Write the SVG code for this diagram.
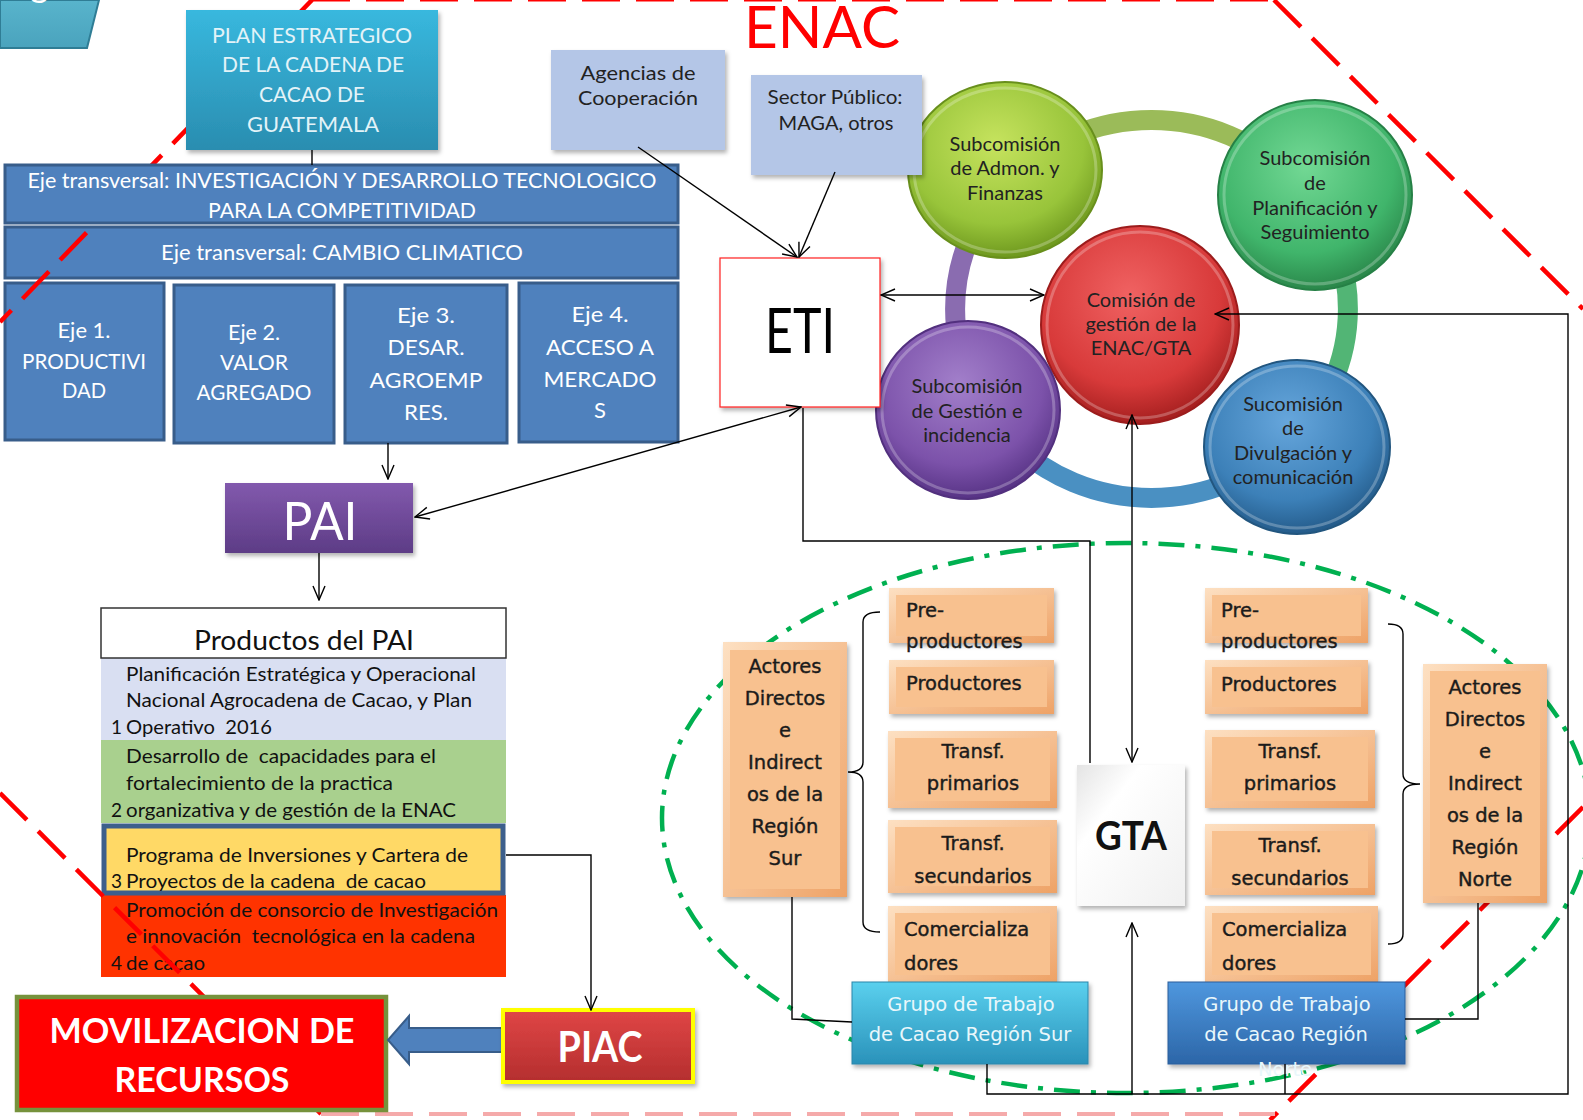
<svg xmlns="http://www.w3.org/2000/svg" width="1583" height="1120" viewBox="0 0 1583 1120">
<defs>
<style>
.cal{font-family:Lato,"Liberation Sans",sans-serif}
.calb{font-family:Lato,"Liberation Sans",sans-serif;font-weight:bold}
.ver{font-family:"DejaVu Sans",Verdana,sans-serif}
.mid{text-anchor:middle}
.ln{fill:none;stroke:#000;stroke-width:1.4}
.lnA{fill:none;stroke:#000;stroke-width:1.4;marker-end:url(#arr)}
.lnAA{fill:none;stroke:#000;stroke-width:1.4;marker-start:url(#arr);marker-end:url(#arr)}
.red{fill:none;stroke:#ff0000;stroke-width:4.5;stroke-dasharray:38 16}
.eje{fill:#4f81bd;stroke:#385d8a;stroke-width:3}
.et{fill:#fff;font-size:22px}
.ct{fill:#222;font-size:20px}
.ot{fill:#1b1b1b;font-size:19.5px;stroke:#1b1b1b;stroke-width:0.4}
.gt{fill:#e9f7fb;font-size:19.5px}
.pt{fill:#111;font-size:19px;white-space:pre}
.orO{fill:url(#gOr);filter:url(#sh)}
.orI{fill:#f8c18f}
.ring{fill:none;stroke-width:20}
</style>
<marker id="arr" viewBox="0 0 16 14" refX="15" refY="7" markerWidth="16" markerHeight="14" markerUnits="userSpaceOnUse" orient="auto-start-reverse">
<path d="M1,1 L15,7 L1,13" fill="none" stroke="#000" stroke-width="1.4"/>
</marker>
<filter id="sh" x="-10%" y="-10%" width="125%" height="130%">
<feDropShadow dx="2" dy="3" stdDeviation="2" flood-color="#000" flood-opacity="0.3"/>
</filter>
<linearGradient id="gPlan" x1="0" y1="0" x2="0" y2="1"><stop offset="0" stop-color="#38b8de"/><stop offset="1" stop-color="#2a8db0"/></linearGradient>
<linearGradient id="gTab" x1="0" y1="0" x2="0" y2="1"><stop offset="0" stop-color="#58b4cc"/><stop offset="1" stop-color="#4aa3bd"/></linearGradient>
<linearGradient id="gPai" x1="0" y1="0" x2="0" y2="1"><stop offset="0" stop-color="#8259ad"/><stop offset="1" stop-color="#5d3c86"/></linearGradient>
<linearGradient id="gPiac" x1="0" y1="0" x2="0" y2="1"><stop offset="0" stop-color="#e04646"/><stop offset="1" stop-color="#b42e2e"/></linearGradient>
<linearGradient id="gGta" x1="0" y1="0" x2="1" y2="1"><stop offset="0" stop-color="#e4e4e4"/><stop offset="0.3" stop-color="#ffffff"/><stop offset="1" stop-color="#f0f0f0"/></linearGradient>
<linearGradient id="gSur" x1="0" y1="0" x2="0" y2="1"><stop offset="0" stop-color="#5ad0ee"/><stop offset="1" stop-color="#2a92ba"/></linearGradient>
<linearGradient id="gNor" x1="0" y1="0" x2="0" y2="1"><stop offset="0" stop-color="#4f97de"/><stop offset="1" stop-color="#2c66a8"/></linearGradient>
<linearGradient id="gOr" x1="0" y1="0" x2="1" y2="1"><stop offset="0" stop-color="#fde0c2"/><stop offset="1" stop-color="#eea266"/></linearGradient>
<radialGradient id="cAd" cx="0.45" cy="0.35" r="0.65"><stop offset="0" stop-color="#c6e35e"/><stop offset="0.7" stop-color="#98c43a"/><stop offset="1" stop-color="#6e981e"/></radialGradient>
<radialGradient id="cPl" cx="0.45" cy="0.35" r="0.65"><stop offset="0" stop-color="#72d894"/><stop offset="0.7" stop-color="#40b56b"/><stop offset="1" stop-color="#2a874a"/></radialGradient>
<radialGradient id="cCo" cx="0.45" cy="0.35" r="0.65"><stop offset="0" stop-color="#f06262"/><stop offset="0.7" stop-color="#d83a3a"/><stop offset="1" stop-color="#a51f1f"/></radialGradient>
<radialGradient id="cGe" cx="0.45" cy="0.35" r="0.65"><stop offset="0" stop-color="#a27fca"/><stop offset="0.7" stop-color="#7c52aa"/><stop offset="1" stop-color="#573385"/></radialGradient>
<radialGradient id="cDi" cx="0.45" cy="0.35" r="0.65"><stop offset="0" stop-color="#66a6dc"/><stop offset="0.7" stop-color="#3c80b8"/><stop offset="1" stop-color="#245b8a"/></radialGradient>
</defs>
<rect width="1583" height="1120" fill="#fff"/>

<g id="title-tab">
<polygon points="0,0 99,0 87,48 0,48" fill="url(#gTab)" stroke="#2f7d95" stroke-width="2"/>
<text x="30" y="-3" class="cal" font-size="36" fill="#fff">g</text>
</g>

<g id="productos">
<rect x="101" y="658" width="405" height="82" fill="#d9dff2"/>
<text class="cal pt" x="126" y="681" textLength="350" lengthAdjust="spacingAndGlyphs">Planificación Estratégica y Operacional</text>
<text class="cal pt" x="126" y="707" textLength="346" lengthAdjust="spacingAndGlyphs">Nacional Agrocadena de Cacao, y Plan</text>
<text class="cal pt" x="111" y="734">1</text>
<text class="cal pt" x="126" y="734" textLength="146" lengthAdjust="spacingAndGlyphs">Operativo  2016</text>
<rect x="101" y="740" width="405" height="83" fill="#a9d08e"/>
<text class="cal pt" x="126" y="763" textLength="310" lengthAdjust="spacingAndGlyphs">Desarrollo de  capacidades para el</text>
<text class="cal pt" x="126" y="790" textLength="267" lengthAdjust="spacingAndGlyphs">fortalecimiento de la practica</text>
<text class="cal pt" x="111" y="817">2</text>
<text class="cal pt" x="126" y="817" textLength="330" lengthAdjust="spacingAndGlyphs">organizativa y de gestión de la ENAC</text>
<rect x="101" y="895" width="405" height="82" fill="#ff3300"/>
<text class="cal pt" x="126" y="917" textLength="372" lengthAdjust="spacingAndGlyphs">Promoción de consorcio de Investigación</text>
<text class="cal pt" x="126" y="943" textLength="349" lengthAdjust="spacingAndGlyphs">e innovación  tecnológica en la cadena</text>
<text class="cal pt" x="111" y="970">4</text>
<text class="cal pt" x="126" y="970" textLength="79" lengthAdjust="spacingAndGlyphs">de cacao</text>
<rect x="104" y="826" width="399" height="67" fill="#ffd966" stroke="#3d5f8c" stroke-width="5"/>
<text class="cal pt" x="126" y="862" textLength="342" lengthAdjust="spacingAndGlyphs">Programa de Inversiones y Cartera de</text>
<text class="cal pt" x="111" y="888">3</text>
<text class="cal pt" x="126" y="888" textLength="300" lengthAdjust="spacingAndGlyphs">Proyectos de la cadena  de cacao</text>
<rect x="101" y="608" width="405" height="50" fill="#fff" stroke="#333" stroke-width="1.5"/>
<text class="cal mid" x="304" y="650" font-size="27" fill="#111" textLength="220" lengthAdjust="spacingAndGlyphs">Productos del PAI</text>
</g>

<g id="eje-cambio">
<rect class="eje" x="5" y="227" width="673" height="51"/>
<text class="cal et mid" x="342" y="260" textLength="362" lengthAdjust="spacingAndGlyphs">Eje transversal: CAMBIO CLIMATICO</text>
</g>
<g id="eje1">
<rect class="eje" x="5" y="283" width="159" height="157"/>
<text class="cal et mid" x="84" y="338" textLength="53" lengthAdjust="spacingAndGlyphs">Eje 1.</text>
<text class="cal et mid" x="84" y="369" textLength="124" lengthAdjust="spacingAndGlyphs">PRODUCTIVI</text>
<text class="cal et mid" x="84" y="398" textLength="44" lengthAdjust="spacingAndGlyphs">DAD</text>
</g>
<g id="eje2">
<rect class="eje" x="174" y="285" width="160" height="158"/>
<text class="cal et mid" x="254" y="340" textLength="52" lengthAdjust="spacingAndGlyphs">Eje 2.</text>
<text class="cal et mid" x="254" y="370" textLength="68" lengthAdjust="spacingAndGlyphs">VALOR</text>
<text class="cal et mid" x="254" y="400" textLength="115" lengthAdjust="spacingAndGlyphs">AGREGADO</text>
</g>
<g id="eje3">
<rect class="eje" x="345" y="285" width="162" height="158"/>
<text class="cal et mid" x="426" y="323" font-size="24" textLength="58" lengthAdjust="spacingAndGlyphs">Eje 3.</text>
<text class="cal et mid" x="426" y="355" font-size="24" textLength="77" lengthAdjust="spacingAndGlyphs">DESAR.</text>
<text class="cal et mid" x="426" y="388" font-size="24" textLength="113" lengthAdjust="spacingAndGlyphs">AGROEMP</text>
<text class="cal et mid" x="426" y="420" font-size="24" textLength="44" lengthAdjust="spacingAndGlyphs">RES.</text>
</g>
<g id="eje4">
<rect class="eje" x="519" y="283" width="159" height="159"/>
<text class="cal et mid" x="600" y="322" font-size="24" textLength="57" lengthAdjust="spacingAndGlyphs">Eje 4.</text>
<text class="cal et mid" x="600" y="355" font-size="24" textLength="108" lengthAdjust="spacingAndGlyphs">ACCESO A</text>
<text class="cal et mid" x="600" y="387" font-size="24" textLength="113" lengthAdjust="spacingAndGlyphs">MERCADO</text>
<text class="cal et mid" x="600" y="418" font-size="24">S</text>
</g>

<g id="enac-ring">
<path class="ring" stroke="#9bbb59" d="M1012.6,175.4 A196.5,189 0 0 1 1290.4,175.4"/>
<path class="ring" stroke="#52b575" d="M1290.4,175.4 A196.5,189 0 0 1 1290.4,442.6"/>
<path class="ring" stroke="#4a90c2" d="M1290.4,442.6 A196.5,189 0 0 1 1012.6,442.6"/>
<path class="ring" stroke="#8a6cb0" d="M1012.6,442.6 A196.5,189 0 0 1 1012.6,175.4"/>
</g>
<g id="comision">
<ellipse cx="1140" cy="325" rx="99" ry="99" fill="url(#cCo)" stroke="#9c1c1c" stroke-width="2"/>
<ellipse cx="1140" cy="325" rx="93" ry="93" fill="none" stroke="#fff" stroke-opacity="0.25" stroke-width="3"/>
<text class="cal ct mid" x="1141" y="307" fill="#3a1010">Comisión de</text>
<text class="cal ct mid" x="1141" y="331" fill="#3a1010">gestión de la</text>
<text class="cal ct mid" x="1141" y="355" fill="#3a1010">ENAC/GTA</text>
</g>
<g id="sub-admon">
<ellipse cx="1005" cy="170" rx="97" ry="88" fill="url(#cAd)" stroke="#688f1c" stroke-width="2"/>
<ellipse cx="1005" cy="170" rx="91" ry="82" fill="none" stroke="#fff" stroke-opacity="0.25" stroke-width="3"/>
<text class="cal ct mid" x="1005" y="151">Subcomisión</text>
<text class="cal ct mid" x="1005" y="175">de Admon. y</text>
<text class="cal ct mid" x="1005" y="200">Finanzas</text>
</g>
<g id="sub-planificacion">
<ellipse cx="1315" cy="195" rx="97" ry="95" fill="url(#cPl)" stroke="#268046" stroke-width="2"/>
<ellipse cx="1315" cy="195" rx="91" ry="89" fill="none" stroke="#fff" stroke-opacity="0.25" stroke-width="3"/>
<text class="cal ct mid" x="1315" y="165">Subcomisión</text>
<text class="cal ct mid" x="1315" y="190">de</text>
<text class="cal ct mid" x="1315" y="215">Planificación y</text>
<text class="cal ct mid" x="1315" y="239">Seguimiento</text>
</g>
<g id="sub-gestion">
<ellipse cx="968" cy="410" rx="92" ry="89" fill="url(#cGe)" stroke="#52307e" stroke-width="2"/>
<ellipse cx="968" cy="410" rx="86" ry="83" fill="none" stroke="#fff" stroke-opacity="0.25" stroke-width="3"/>
<text class="cal ct mid" x="967" y="393">Subcomisión</text>
<text class="cal ct mid" x="967" y="418">de Gestión e</text>
<text class="cal ct mid" x="967" y="442">incidencia</text>
</g>
<g id="sub-divulgacion">
<ellipse cx="1297" cy="447" rx="93" ry="87" fill="url(#cDi)" stroke="#22567f" stroke-width="2"/>
<ellipse cx="1297" cy="447" rx="87" ry="81" fill="none" stroke="#fff" stroke-opacity="0.25" stroke-width="3"/>
<text class="cal ct mid" x="1293" y="411">Sucomisión</text>
<text class="cal ct mid" x="1293" y="435">de</text>
<text class="cal ct mid" x="1293" y="460">Divulgación y</text>
<text class="cal ct mid" x="1293" y="484">comunicación</text>
</g>

<g id="region-ellipse">
<ellipse cx="1126" cy="818" rx="464" ry="275" fill="none" stroke="#00b050" stroke-width="4.5" stroke-dasharray="26 11 5 11"/>
</g>

<g id="enac-boundary">
<path class="red" d="M312,0 L0,322"/>
<path class="red" d="M0,793 L321,1114"/>
<path class="red" d="M1274,0 L1583,309"/>
<path class="red" d="M1583,807 L1270,1120"/>
<path d="M321,1114 L1275,1114" fill="none" stroke="#f5aaaa" stroke-width="4" stroke-dasharray="38 16"/>
<path d="M312,0 L1274,0" fill="none" stroke="#ff0000" stroke-width="3" stroke-dasharray="38 16"/>
</g>

<g id="plan">
<rect x="186" y="10" width="252" height="140" fill="url(#gPlan)" filter="url(#sh)"/>
<text class="cal mid" x="312" y="43" font-size="22" fill="#e3f3f8" textLength="200" lengthAdjust="spacingAndGlyphs">PLAN ESTRATEGICO</text>
<text class="cal mid" x="313" y="72" font-size="22" fill="#e3f3f8" textLength="182" lengthAdjust="spacingAndGlyphs">DE LA CADENA DE</text>
<text class="cal mid" x="312" y="102" font-size="22" fill="#e3f3f8" textLength="106" lengthAdjust="spacingAndGlyphs">CACAO DE</text>
<text class="cal mid" x="313" y="132" font-size="22" fill="#e3f3f8" textLength="132" lengthAdjust="spacingAndGlyphs">GUATEMALA</text>
</g>
<g id="eje-investigacion">
<rect class="eje" x="5" y="165" width="673" height="58"/>
<text class="cal et mid" x="342" y="188" textLength="629" lengthAdjust="spacingAndGlyphs">Eje transversal: INVESTIGACIÓN Y DESARROLLO TECNOLOGICO</text>
<text class="cal et mid" x="342" y="218" textLength="268" lengthAdjust="spacingAndGlyphs">PARA LA COMPETITIVIDAD</text>
</g>
<g id="agencias">
<rect x="551" y="50" width="174" height="100" fill="#b4c6e7" filter="url(#sh)"/>
<text class="cal mid" x="638" y="80" font-size="19" fill="#222" textLength="115" lengthAdjust="spacingAndGlyphs">Agencias de</text>
<text class="cal mid" x="638" y="105" font-size="19" fill="#222" textLength="120" lengthAdjust="spacingAndGlyphs">Cooperación</text>
</g>
<g id="sector">
<rect x="751" y="75" width="171" height="100" fill="#b4c6e7" filter="url(#sh)"/>
<text class="cal mid" x="835" y="104" font-size="19" fill="#222" textLength="135" lengthAdjust="spacingAndGlyphs">Sector Público:</text>
<text class="cal mid" x="836" y="130" font-size="19" fill="#222" textLength="115" lengthAdjust="spacingAndGlyphs">MAGA, otros</text>
</g>
<g id="enac-title">
<text class="cal" x="744" y="48" font-size="59" fill="#ff0000" textLength="156" lengthAdjust="spacingAndGlyphs">ENAC</text>
</g>
<g id="eti">
<rect x="720" y="258" width="160" height="149" fill="#fff" stroke="#ff2020" stroke-width="1.2" filter="url(#sh)"/>
<text class="cal" x="765" y="353" font-size="62" fill="#000" textLength="70" lengthAdjust="spacingAndGlyphs">ETI</text>
</g>
<g id="pai">
<rect x="225" y="483" width="188" height="70" fill="url(#gPai)" filter="url(#sh)"/>
<text class="cal mid" x="320" y="540" font-size="52" fill="#fff" textLength="75" lengthAdjust="spacingAndGlyphs">PAI</text>
</g>

<g id="actores-sur">
<rect class="orO" x="723" y="642" width="124" height="255"/>
<rect class="orI" x="730" y="650" width="110" height="239"/>
<text class="ver ot mid" x="785" y="673">Actores</text>
<text class="ver ot mid" x="785" y="705">Directos</text>
<text class="ver ot mid" x="785" y="737">e</text>
<text class="ver ot mid" x="785" y="769">Indirect</text>
<text class="ver ot mid" x="785" y="801">os de la</text>
<text class="ver ot mid" x="785" y="833">Región</text>
<text class="ver ot mid" x="785" y="865">Sur</text>
</g>
<g id="sur-preproductores">
<rect class="orO" x="889" y="588" width="165" height="55"/>
<rect class="orI" x="896" y="595" width="151" height="41"/>
<text class="ver ot" x="906" y="617">Pre-</text>
<text class="ver ot" x="906" y="648">productores</text>
</g>
<g id="sur-productores">
<rect class="orO" x="889" y="660" width="165" height="54"/>
<rect class="orI" x="896" y="667" width="151" height="40"/>
<text class="ver ot" x="906" y="690">Productores</text>
</g>
<g id="sur-transf-primarios">
<rect class="orO" x="888" y="731" width="169" height="77"/>
<rect class="orI" x="895" y="738" width="155" height="63"/>
<text class="ver ot mid" x="973" y="758">Transf.</text>
<text class="ver ot mid" x="973" y="790">primarios</text>
</g>
<g id="sur-transf-secundarios">
<rect class="orO" x="888" y="820" width="169" height="73"/>
<rect class="orI" x="895" y="827" width="155" height="59"/>
<text class="ver ot mid" x="973" y="850">Transf.</text>
<text class="ver ot mid" x="973" y="883">secundarios</text>
</g>
<g id="sur-comercializadores">
<rect class="orO" x="888" y="906" width="169" height="76"/>
<rect class="orI" x="895" y="913" width="155" height="62"/>
<text class="ver ot" x="904" y="936">Comercializa</text>
<text class="ver ot" x="904" y="970">dores</text>
</g>
<g id="grupo-sur">
<rect x="852" y="982" width="236" height="82" fill="url(#gSur)" stroke="#2a86aa" stroke-width="1" filter="url(#sh)"/>
<text class="ver gt mid" x="971" y="1011">Grupo de Trabajo</text>
<text class="ver gt mid" x="970" y="1041">de Cacao Región Sur</text>
</g>

<g id="gta">
<rect x="1077" y="765" width="108" height="141" fill="url(#gGta)" filter="url(#sh)"/>
<text class="calb" x="1095" y="850" font-size="40" fill="#111" textLength="72" lengthAdjust="spacingAndGlyphs">GTA</text>
</g>

<g id="norte-preproductores">
<rect class="orO" x="1205" y="588" width="163" height="55"/>
<rect class="orI" x="1212" y="595" width="149" height="41"/>
<text class="ver ot" x="1221" y="617">Pre-</text>
<text class="ver ot" x="1221" y="648">productores</text>
</g>
<g id="norte-productores">
<rect class="orO" x="1205" y="660" width="163" height="54"/>
<rect class="orI" x="1212" y="667" width="149" height="40"/>
<text class="ver ot" x="1221" y="691">Productores</text>
</g>
<g id="norte-transf-primarios">
<rect class="orO" x="1205" y="730" width="170" height="78"/>
<rect class="orI" x="1212" y="737" width="156" height="64"/>
<text class="ver ot mid" x="1290" y="758">Transf.</text>
<text class="ver ot mid" x="1290" y="790">primarios</text>
</g>
<g id="norte-transf-secundarios">
<rect class="orO" x="1205" y="824" width="170" height="71"/>
<rect class="orI" x="1212" y="831" width="156" height="57"/>
<text class="ver ot mid" x="1290" y="852">Transf.</text>
<text class="ver ot mid" x="1290" y="885">secundarios</text>
</g>
<g id="norte-comercializadores">
<rect class="orO" x="1205" y="906" width="173" height="76"/>
<rect class="orI" x="1212" y="913" width="159" height="62"/>
<text class="ver ot" x="1222" y="936">Comercializa</text>
<text class="ver ot" x="1222" y="970">dores</text>
</g>
<g id="actores-norte">
<rect class="orO" x="1423" y="664" width="124" height="239"/>
<rect class="orI" x="1430" y="671" width="110" height="225"/>
<text class="ver ot mid" x="1485" y="694">Actores</text>
<text class="ver ot mid" x="1485" y="726">Directos</text>
<text class="ver ot mid" x="1485" y="758">e</text>
<text class="ver ot mid" x="1485" y="790">Indirect</text>
<text class="ver ot mid" x="1485" y="822">os de la</text>
<text class="ver ot mid" x="1485" y="854">Región</text>
<text class="ver ot mid" x="1485" y="886">Norte</text>
</g>
<g id="grupo-norte">
<rect x="1168" y="982" width="237" height="82" fill="url(#gNor)" stroke="#2a5f9c" stroke-width="1" filter="url(#sh)"/>
<text class="ver gt mid" x="1287" y="1011">Grupo de Trabajo</text>
<text class="ver gt mid" x="1286" y="1041">de Cacao Región</text>
<text class="ver gt mid" x="1285" y="1076">Norte</text>
</g>

<g id="movilizacion">
<rect x="17" y="997" width="369" height="113" fill="#ff0000" stroke="#76923c" stroke-width="4.5"/>
<text class="calb mid" x="202" y="1043" font-size="35" fill="#fff" textLength="305" lengthAdjust="spacingAndGlyphs">MOVILIZACION DE</text>
<text class="calb mid" x="202" y="1092" font-size="35" fill="#fff" textLength="175" lengthAdjust="spacingAndGlyphs">RECURSOS</text>
</g>
<g id="piac-arrow">
<polygon points="505,1028 409,1028 409,1016 388,1040 409,1064 409,1052 505,1052" fill="#4f81bd" stroke="#385d8a" stroke-width="2"/>
</g>
<g id="piac">
<rect x="503" y="1010" width="190" height="72" fill="url(#gPiac)" stroke="#ffff00" stroke-width="4" filter="url(#sh)"/>
<text class="calb mid" x="600" y="1062" font-size="42" fill="#fff" textLength="85" lengthAdjust="spacingAndGlyphs">PIAC</text>
</g>

<g id="connectors">
<path class="ln" d="M312,150 L312,165"/>
<path class="lnA" d="M388,443 L388,479"/>
<path class="lnA" d="M319,553 L319,600"/>
<path class="lnA" d="M638,147 L797,257"/>
<path class="lnA" d="M835,172 L799,257"/>
<path class="lnAA" d="M881,295 L1044,295"/>
<path class="lnAA" d="M415,517 L801,407"/>
<path class="ln" d="M803,408 L803,541 L1090,541 L1090,763"/>
<path class="lnAA" d="M1132,415 L1132,762"/>
<path class="lnA" d="M987,1064 L987,1094 L1568,1094 L1568,314 L1215,314"/>
<path class="lnA" d="M1132,1094 L1132,923"/>
<path class="ln" d="M1285,1064 L1285,1094"/>
<path class="ln" d="M792,897 L792,1019 L852,1022"/>
<path class="ln" d="M1478,903 L1478,1019 L1405,1019"/>
<path class="lnA" d="M506,855 L591,855 L591,1010"/>
<path class="ln" d="M880,612 Q863,612 863,622 L863,762 Q863,772 848,772 Q863,772 863,782 L863,922 Q863,932 880,932"/>
<path class="ln" d="M1388,624 Q1403,624 1403,634 L1403,774 Q1403,784 1420,784 Q1403,784 1403,794 L1403,934 Q1403,944 1388,944"/>
</g>
</svg>
